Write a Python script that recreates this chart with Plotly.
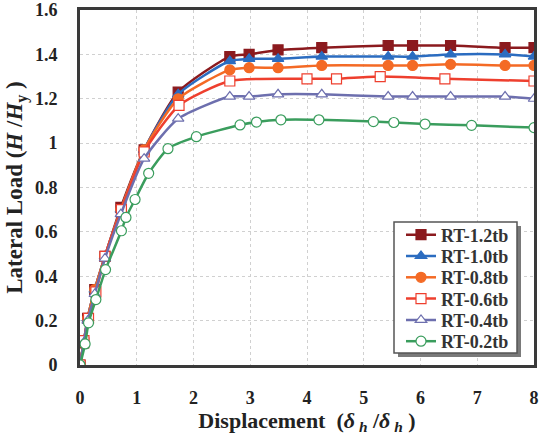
import plotly.graph_objects as go

# Data
x_main = [0, 0.065, 0.135, 0.26, 0.44, 0.72, 1.13, 1.73, 2.64, 2.98, 3.49, 4.26, 5.43, 5.86, 6.53, 7.49, 8.0]
rt12 = [0, 0.10, 0.21, 0.34, 0.49, 0.71, 0.97, 1.23, 1.39, 1.40, 1.42, 1.43, 1.44, 1.44, 1.44, 1.43, 1.43]
rt10 = [0, 0.10, 0.21, 0.34, 0.49, 0.70, 0.97, 1.22, 1.37, 1.38, 1.38, 1.39, 1.39, 1.39, 1.40, 1.40, 1.39]
rt08 = [0, 0.10, 0.21, 0.34, 0.49, 0.70, 0.97, 1.20, 1.33, 1.34, 1.34, 1.35, 1.35, 1.35, 1.355, 1.35, 1.35]
rt04 = [0, 0.10, 0.20, 0.32, 0.48, 0.68, 0.93, 1.11, 1.21, 1.21, 1.22, 1.22, 1.21, 1.21, 1.21, 1.21, 1.20]

x_06 = [0, 0.07, 0.15, 0.28, 0.44, 0.73, 1.13, 1.745, 2.64, 4.0, 4.52, 5.29, 6.43, 8.0]
rt06 = [0, 0.11, 0.21, 0.33, 0.49, 0.70, 0.96, 1.17, 1.28, 1.29, 1.29, 1.30, 1.29, 1.28]

x_02 = [0, 0.09, 0.15, 0.28, 0.45, 0.73, 0.81, 0.97, 1.21, 1.55, 2.05, 2.82, 3.11, 3.54, 4.21, 5.17, 5.53, 6.08, 6.9, 8.0]
rt02 = [0, 0.095, 0.19, 0.295, 0.43, 0.605, 0.665, 0.746, 0.864, 0.975, 1.029, 1.082, 1.095, 1.105, 1.105, 1.097, 1.093, 1.086, 1.08, 1.07]

x_ticks = [0, 1, 2, 3, 4, 5, 6, 7, 8]
y_ticks = [0, 0.2, 0.4, 0.6, 0.8, 1, 1.2, 1.4, 1.6]
y_tick_text = ["0", "0.2", "0.4", "0.6", "0.8", "1", "1.2", "1.4", "1.6"]

series = [
    ("RT-1.2tb", x_main, rt12, "#8b1a1e", "square", "#8b1a1e"),
    ("RT-1.0tb", x_main, rt10, "#2b6cc0", "triangle-up", "#2b6cc0"),
    ("RT-0.8tb", x_main, rt08, "#f46a25", "circle", "#f46a25"),
    ("RT-0.6tb", x_06, rt06, "#ee3f2e", "square", "white"),
    ("RT-0.4tb", x_main, rt04, "#6d6fae", "triangle-up", "white"),
    ("RT-0.2tb", x_02, rt02, "#3a9d5d", "circle", "white"),
]

FONT = "Liberation Serif"

# plot-area pixel geometry (for paper-coordinate conversion of the legend)
L, R, T, B = 80, 534, 10, 365
def px(xp):
    return (xp - L) / (R - L)
def py(yp):
    return (B - yp) / (B - T)

legend_first_row = 235
legend_row_step = 21.3

fig = go.Figure()
layout_legends = {}
for i, (name, xs, ys, col, sym, fill) in enumerate(series):
    lg = "legend" if i == 0 else f"legend{i + 1}"
    fig.add_trace(go.Scatter(
        x=xs, y=ys, name=name, mode="lines+markers", legend=lg,
        line=dict(color=col, width=2.5, shape="spline", smoothing=0.6),
        marker=dict(symbol=sym, size=10, color=fill, line=dict(color=col, width=1.2)),
    ))
    layout_legends[lg] = dict(
        x=px(401), y=py(legend_first_row + i * legend_row_step),
        xanchor="left", yanchor="middle",
        bgcolor="rgba(0,0,0,0)", borderwidth=0,
        font=dict(family=FONT, size=18, color="#333", weight="bold"),
        itemsizing="trace",
    )

fig.update_layout(
    width=551, height=439,
    margin=dict(l=L, r=551 - R, t=T, b=439 - B),
    paper_bgcolor="white", plot_bgcolor="white",
    font=dict(family=FONT, size=14, color="#222", weight="bold"),
    showlegend=True,
    xaxis=dict(
        range=[0, 8], tickvals=x_ticks, showgrid=True, gridcolor="#d0d0d0",
        griddash="dot", gridwidth=1, zeroline=False, ticks="",
        showline=True, linecolor="#3a3a3a", linewidth=3, mirror=True,
        ticklabelstandoff=14, automargin=False,
        tickfont=dict(family=FONT, size=18, color="#222", weight="bold"),
        title=dict(text="Displacement  (<i>δ</i><sub> <i>h</i></sub> /<i>δ</i><sub> <i>h</i></sub> )",
                   font=dict(family=FONT, size=22, color="#222", weight="bold"), standoff=2),
    ),
    yaxis=dict(
        range=[0, 1.6], tickvals=y_ticks, ticktext=y_tick_text, showgrid=True,
        gridcolor="#d0d0d0", griddash="dot", gridwidth=1, zeroline=False, ticks="",
        showline=True, linecolor="#3a3a3a", linewidth=3, mirror=True,
        ticklabelstandoff=16, automargin=False,
        tickfont=dict(family=FONT, size=18, color="#222", weight="bold"),
        title=dict(text="Lateral Load (<i>H</i> /<i>H</i><sub>y</sub> )",
                   font=dict(family=FONT, size=23, color="#222", weight="bold"), standoff=6),
    ),
    **layout_legends,
)

# legend shadow and frame
fig.add_shape(type="rect", xref="paper", yref="paper",
              x0=px(398), x1=px(521), y0=py(357), y1=py(226),
              fillcolor="#7a7a7a", line=dict(width=0), layer="above")
fig.add_shape(type="rect", xref="paper", yref="paper",
              x0=px(394), x1=px(517), y0=py(353), y1=py(222),
              fillcolor="white", line=dict(color="#555", width=1.5), layer="above")

fig.write_html("out.html")
